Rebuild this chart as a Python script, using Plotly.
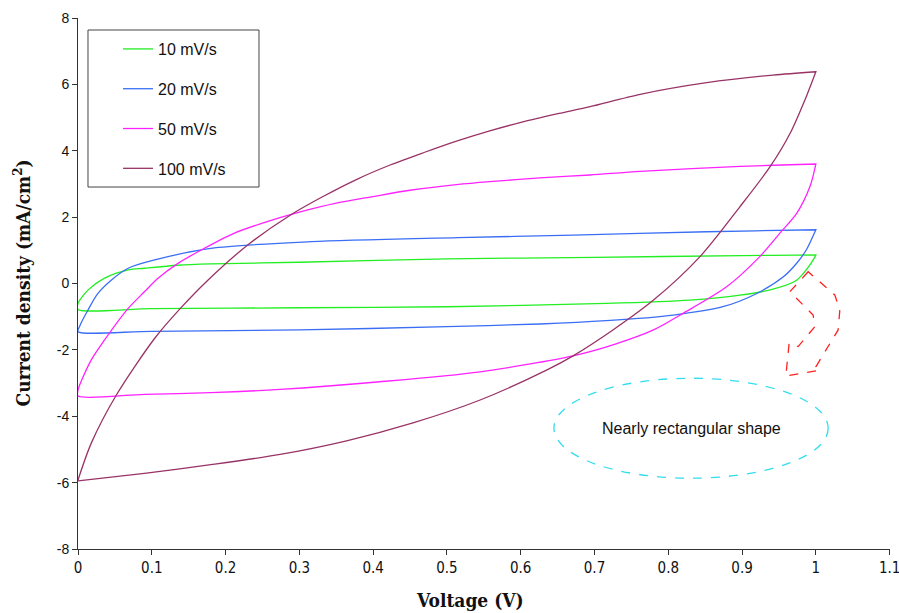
import plotly.graph_objects as go

# ---------------- data ----------------
rates = ["10 mV/s", "20 mV/s", "50 mV/s", "100 mV/s"]
colors = ["#22EE22", "#3A6EF5", "#FF22FF", "#993366"]

# 10 mV/s
v10_fwd = [0, 0, 0.0135, 0.036, 0.068, 0.09, 0.135, 0.18, 0.3, 0.5, 0.7, 0.9, 1.0]
j10_fwd = [-0.78, -0.6, -0.2, 0.16, 0.41, 0.46, 0.55, 0.59, 0.64, 0.74, 0.79, 0.84, 0.86]
v10_rev = [1.0, 0.999, 0.987, 0.974, 0.942, 0.897, 0.829, 0.716, 0.5, 0.3, 0.1, 0]
j10_rev = [0.86, 0.81, 0.41, 0.1, -0.17, -0.35, -0.5, -0.6, -0.70, -0.73, -0.76, -0.78]

# 20 mV/s
v20_fwd = [0, 0.002, 0.0135, 0.027, 0.045, 0.068, 0.104, 0.18, 0.316, 0.515, 0.671, 0.852, 1.0]
j20_fwd = [-1.45, -1.30, -0.80, -0.30, 0.1, 0.46, 0.71, 1.06, 1.26, 1.38, 1.46, 1.56, 1.62]
v20_rev = [1.0, 0.987, 0.974, 0.956, 0.92, 0.874, 0.807, 0.716, 0.626, 0.5, 0.3, 0.1, 0]
j20_rev = [1.62, 1.01, 0.61, 0.2, -0.30, -0.70, -0.95, -1.12, -1.22, -1.30, -1.40, -1.44, -1.45]

# 50 mV/s
v50_fwd = [0, 0, 0.018, 0.036, 0.068, 0.09, 0.108, 0.135, 0.167, 0.212, 0.25, 0.3, 0.35,
           0.4, 0.45, 0.513, 0.558, 0.626, 0.694, 0.762, 0.897, 1.0]
j50_fwd = [-3.39, -3.21, -2.30, -1.70, -0.75, -0.25, 0.15, 0.6, 1.01, 1.52, 1.82, 2.15, 2.42,
           2.62, 2.81, 2.98, 3.07, 3.18, 3.27, 3.38, 3.53, 3.60]
v50_rev = [1.0, 0.992, 0.974, 0.951, 0.924, 0.879, 0.82, 0.78, 0.725, 0.671, 0.545,
           0.409, 0.274, 0.18, 0.09, 0]
j50_rev = [3.60, 2.92, 2.11, 1.51, 0.81, -0.10, -0.90, -1.40, -1.85, -2.18, -2.66,
           -2.96, -3.19, -3.29, -3.34, -3.39]

# 100 mV/s
v100_fwd = [0, 0.018, 0.052, 0.104, 0.14, 0.176, 0.23, 0.287, 0.332, 0.378, 0.423, 0.468,
            0.513, 0.558, 0.603, 0.649, 0.694, 0.762, 0.852, 0.942, 1.0]
j100_fwd = [-5.92, -4.81, -3.36, -1.65, -0.72, 0.1, 1.16, 2.05, 2.62, 3.14, 3.57, 3.94,
            4.29, 4.60, 4.87, 5.11, 5.33, 5.70, 6.05, 6.28, 6.38]
v100_rev = [1.0, 0.987, 0.965, 0.938, 0.897, 0.843, 0.78, 0.725, 0.671, 0.635, 0.545,
            0.454, 0.364, 0.274, 0.18, 0.09, 0]
j100_rev = [6.38, 5.63, 4.52, 3.52, 2.31, 0.81, -0.5, -1.40, -2.18, -2.61, -3.51,
            -4.20, -4.74, -5.15, -5.46, -5.72, -5.95]

x_ticks = [0, 0.1, 0.2, 0.3, 0.4, 0.5, 0.6, 0.7, 0.8, 0.9, 1, 1.1]
y_ticks = [-8, -6, -4, -2, 0, 2, 4, 6, 8]

x_title = "<b>Voltage (V)</b>"
y_title = "<b>Current density (mA/cm<sup>2</sup>)</b>"
annotation_text = "Nearly rectangular shape"

# ---------------- figure ----------------
curves = [
    (v10_fwd + v10_rev, j10_fwd + j10_rev),
    (v20_fwd + v20_rev, j20_fwd + j20_rev),
    (v50_fwd + v50_rev, j50_fwd + j50_rev),
    (v100_fwd + v100_rev, j100_fwd + j100_rev),
]

fig = go.Figure()
for name, col, (vx, jy) in zip(rates, colors, curves):
    fig.add_trace(go.Scatter(
        x=vx, y=jy, mode="lines", name=name, legendgroup=name,
        line=dict(color=col, width=1.3, shape="spline", smoothing=0.8),
    ))

# dashed curved arrow (outline)
arrow_x = [0.9896, 0.9648, 0.9963, 0.9986, 0.976, 0.9638, 0.9593, 1.0054, 1.0,
           1.0302, 1.0325, 1.0257, 0.9896]
arrow_y = [0.355, -0.247, -0.949, -1.30, -1.90, -1.80, -2.79, -2.61, -2.51,
           -1.40, -0.80, -0.346, 0.355]
path = "M " + " L ".join(f"{a},{b}" for a, b in zip(arrow_x, arrow_y)) + " Z"
fig.add_shape(type="path", path=path, xref="x", yref="y",
              line=dict(color="#FF2020", width=1.3, dash="dash"))

# dashed ellipse
fig.add_shape(type="circle", xref="x", yref="y", x0=0.645, x1=1.0167, y0=-5.867, y1=-2.855,
              line=dict(color="#33DDEE", width=1.3, dash="dash"))
fig.add_annotation(x=0.831, y=-4.36, xref="x", yref="y", text=annotation_text,
                   showarrow=False, font=dict(family="Liberation Sans, Arial", size=16, color="#111111"))

# legend frame
fig.add_shape(type="rect", xref="paper", yref="paper", x0=0.0123, x1=0.2229, y0=0.6817, y1=0.9774,
              line=dict(color="#444444", width=1), fillcolor="rgba(0,0,0,0)", layer="above")

x_axis_font = dict(family="Liberation Sans Narrow, Arial Narrow, DejaVu Sans Condensed, Liberation Sans",
                   size=15, color="#111111")
y_axis_font = dict(family="Liberation Sans, Arial", size=14, color="#111111")
title_font = dict(family="DejaVu Serif Condensed, DejaVu Serif, Liberation Serif", size=19, color="#111111")

# axis titles
fig.add_annotation(x=0.4828, y=-0.096, xref="paper", yref="paper", text=x_title,
                   showarrow=False, font=title_font, xanchor="center", yanchor="middle")
fig.add_annotation(x=-0.069, y=0.502, xref="paper", yref="paper", text=y_title, textangle=-90,
                   showarrow=False, font=title_font, xanchor="center", yanchor="middle")

fig.update_layout(
    width=899, height=613,
    margin=dict(l=78, r=9, t=18, b=64),
    paper_bgcolor="white", plot_bgcolor="white",
    showlegend=True,
    legend=dict(x=0.0493, y=0.9736, xanchor="left", yanchor="top",
                borderwidth=0, bgcolor="rgba(0,0,0,0)",
                font=dict(family="Liberation Sans, Arial", size=16, color="#111111"),
                tracegroupgap=16, itemwidth=30),
    xaxis=dict(range=[0, 1.1005], tickvals=x_ticks, ticktext=[f"{t:g}" for t in x_ticks],
               showgrid=False, zeroline=False, showline=True, linecolor="#333333", linewidth=1,
               ticks="outside", ticklen=5, tickcolor="#333333", tickfont=x_axis_font, automargin=False,
               ticklabeloverflow="allow"),
    yaxis=dict(range=[-8, 8], tickvals=y_ticks, ticktext=[f"{t:d}" for t in y_ticks],
               showgrid=False, zeroline=False,
               showline=True, linecolor="#333333", linewidth=1,
               ticks="outside", ticklen=5, tickcolor="#333333", tickfont=y_axis_font, automargin=False,
               ticklabeloverflow="allow"),
)

fig.write_html(
    "out.html",
    config={"displayModeBar": False},
    post_script="document.body.style.margin='0';document.body.style.overflow='hidden';",
)
